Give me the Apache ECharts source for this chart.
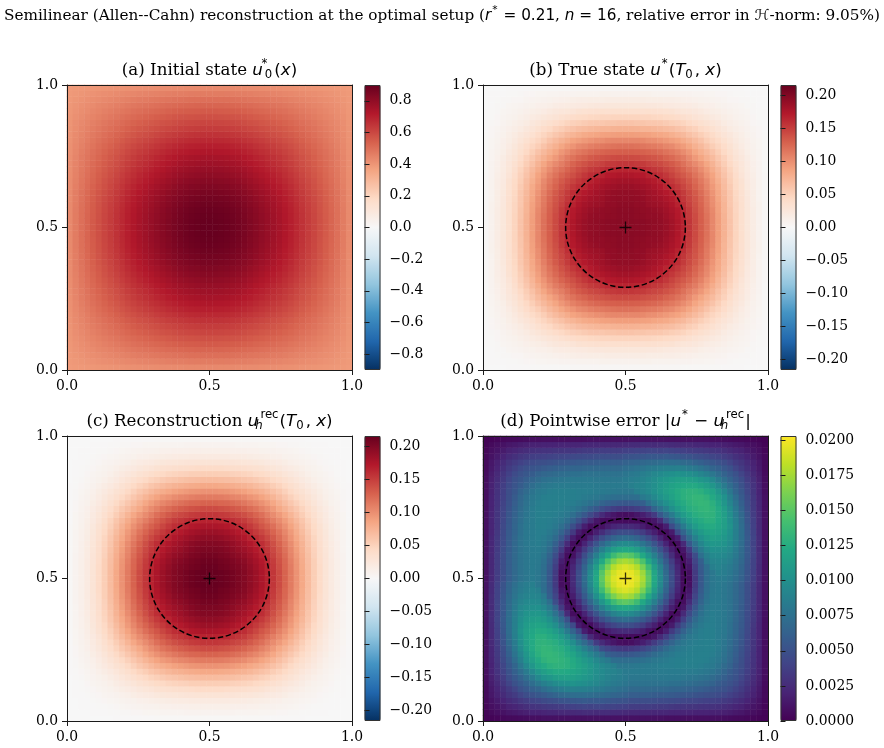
<!DOCTYPE html>
<html>
<head>
<meta charset="utf-8">
<style>html,body{margin:0;padding:0;background:#fff}#chart{width:884px;height:748px}</style>
<script src="https://cdn.jsdelivr.net/npm/echarts@6/dist/echarts.min.js"></script>
</head>
<body>
<div id="chart"></div>
<script>
// Fields are stored as upper triangles of a quadrant: row l holds the cells k = l..24,
// counted in cells away from the domain centre along each axis.
const CELLS = 49;

// Initial state u0*, in thousandths
const initialState = [
[900,899,895,890,881,871,857,841,824,806,788,769,751,729,706,681,656,631,607,580,554,527,500,468,432],
[898,894,889,880,870,856,840,823,805,787,768,750,728,705,680,655,630,607,580,554,527,500,468,432],
[890,885,876,866,852,836,820,802,784,765,747,726,703,678,653,628,605,578,552,526,499,467,431],
[880,871,861,847,832,815,797,780,761,744,722,699,675,650,626,602,576,551,524,498,466,431],
[862,853,839,824,808,790,773,755,737,716,694,670,646,622,599,573,548,522,496,465,430],
[844,831,816,800,783,766,748,731,710,688,664,641,617,595,569,544,519,493,463,429],
[818,803,788,771,755,737,721,700,679,656,633,610,588,564,540,515,490,461,428],
[788,773,757,741,725,709,689,669,647,625,602,581,557,534,510,486,458,426],
[759,743,728,712,696,678,658,637,615,594,574,551,528,505,482,455,424],
[729,714,699,684,666,647,627,606,586,566,544,522,500,478,452,423],
[700,685,671,654,636,616,596,577,558,537,516,495,474,449,421],
[671,658,641,624,605,585,568,550,530,510,490,470,446,419],
[645,629,613,595,577,559,542,523,504,485,466,443,417],
[615,599,582,565,549,533,514,497,479,461,439,415],
[584,569,553,537,522,505,489,472,455,435,413],
[554,540,525,511,496,481,465,449,431,410],
[526,513,500,486,472,458,444,427,408],
[501,490,477,464,451,438,423,405],
[479,467,456,444,432,419,403],
[457,447,437,426,414,400],
[438,429,420,409,397],
[422,414,405,395],
[408,400,392],
[395,389],
[385]];

// True state u*(T0, x), in thousandths
const trueState = [
[196,196,196,195,194,192,191,187,182,175,166,155,143,131,119,105,91,76,62,48,36,25,17,9,3],
[197,196,196,194,193,191,187,182,175,166,155,143,131,119,105,91,76,62,48,36,25,17,9,3],
[194,194,192,192,190,185,180,173,165,153,142,130,118,105,90,75,61,48,36,25,17,9,3],
[193,192,190,188,183,178,172,163,152,140,129,116,104,89,74,61,47,35,25,17,10,3],
[188,186,184,180,175,167,159,148,138,127,114,101,88,74,59,47,36,24,16,10,3],
[183,181,176,171,164,155,145,136,125,113,100,86,72,59,46,35,24,16,8,3],
[177,172,167,160,152,143,133,122,110,97,84,70,58,45,34,23,16,8,3],
[165,160,154,146,138,128,118,106,94,82,68,56,43,33,22,15,8,3],
[154,147,141,133,124,114,103,90,78,66,53,42,32,21,15,8,3],
[140,134,127,118,109,97,87,74,62,51,40,29,20,14,7,3],
[127,119,112,102,92,81,70,59,48,37,27,19,13,7,2],
[111,103,95,85,75,64,54,44,34,26,18,12,7,2],
[94,86,77,69,59,50,40,31,24,17,11,6,2],
[78,70,62,53,44,36,28,22,14,10,6,2],
[62,54,47,40,32,25,18,13,9,5,2],
[47,41,34,28,22,16,12,8,5,2],
[34,29,24,19,14,10,7,4,2],
[24,19,15,12,9,6,4,1],
[15,13,10,7,4,3,1],
[10,8,6,4,2,1],
[6,5,3,2,1],
[3,3,1,0],
[2,1,0],
[1,0],
[0]];

// Reconstruction u_h^rec(T0, x), in thousandths
const reconstruction = [
[216,216,214,212,208,204,200,193,186,177,167,155,142,128,113,98,83,68,54,41,30,20,13,7,2],
[216,214,212,208,204,200,193,186,177,167,155,142,128,113,98,83,68,54,41,30,20,13,7,2],
[211,209,205,202,198,191,184,175,165,153,140,126,112,97,82,67,53,41,30,20,13,7,2],
[207,203,199,195,188,181,173,163,151,138,125,110,96,81,66,53,40,29,20,13,7,2],
[198,194,190,184,177,168,159,147,135,122,107,93,79,65,51,39,29,19,12,7,2],
[189,185,179,172,164,155,144,132,119,105,91,77,63,50,38,28,19,12,6,2],
[180,174,168,160,151,140,128,115,102,88,75,61,49,37,27,18,12,6,2],
[166,160,153,144,134,122,110,97,84,72,59,47,35,26,17,11,6,2],
[153,145,137,127,117,105,93,80,68,56,44,34,25,16,11,6,2],
[136,129,120,109,99,87,76,64,52,42,32,23,15,10,5,2],
[120,111,102,92,81,70,60,49,39,29,21,14,9,5,1],
[102,93,84,74,64,54,44,35,27,20,13,9,5,1],
[83,75,66,58,49,40,32,24,18,12,8,4,1],
[67,59,51,43,35,28,21,16,10,7,4,1],
[51,44,37,31,24,18,13,9,6,3,1],
[37,32,26,21,16,11,8,5,3,1],
[26,21,17,13,9,6,4,2,1],
[17,13,10,7,5,3,2,0],
[10,8,6,4,2,1,0],
[6,4,3,2,1,0],
[3,2,1,1,0],
[1,1,0,0],
[1,0,0],
[0,0],
[0]];

// Pointwise error, in units of 1e-4; two lobes sit on the main diagonal
const errorLobeQuadrant = [
[200,198,192,177,152,122,97,72,48,25,6,7,33,55,72,80,83,83,79,72,63,51,38,24,9],
[196,188,173,148,119,95,70,47,24,6,8,34,56,72,80,87,85,81,74,65,52,39,25,10],
[180,162,138,112,89,65,42,21,6,12,37,58,73,87,90,87,83,76,66,53,40,25,10],
[145,122,101,79,57,36,16,6,17,41,61,82,91,92,90,86,78,68,54,40,26,10],
[105,87,67,47,26,9,7,25,47,74,87,95,96,94,89,81,70,56,41,26,10],
[70,53,34,17,6,12,35,65,83,94,101,100,98,93,83,71,56,41,25,10],
[37,20,6,7,24,56,76,92,102,107,106,103,96,85,72,56,40,26,10],
[8,7,17,49,71,88,101,109,113,111,107,99,87,73,57,41,26,9],
[15,46,66,84,100,109,116,118,116,110,101,87,73,56,40,25,9],
[65,83,99,110,118,123,124,119,113,103,88,72,55,39,24,9],
[98,110,119,124,128,128,122,114,101,87,71,53,38,24,9],
[119,126,129,131,130,123,113,100,84,69,52,36,24,9],
[129,132,133,130,123,111,97,81,65,49,35,22,9],
[134,133,128,118,106,92,77,62,47,34,22,9],
[130,123,113,102,87,72,58,45,33,21,9],
[117,106,94,80,66,55,42,31,20,8],
[95,84,72,62,51,40,30,20,8],
[74,64,56,47,36,27,18,7],
[57,50,41,33,24,16,6],
[41,35,28,21,14,5],
[31,25,19,13,5],
[20,15,10,4],
[11,8,3],
[5,2],
[1]];
const errorPlainQuadrant = [
[200,198,192,177,152,122,97,72,48,25,6,7,33,55,72,80,83,80,76,69,60,48,36,23,9],
[196,188,173,148,119,95,70,47,24,6,8,34,56,72,80,83,80,76,69,60,48,36,23,9],
[180,162,138,112,89,65,42,21,6,12,37,58,73,81,83,80,76,69,60,48,36,23,9],
[145,122,101,79,57,36,16,6,17,41,61,75,82,83,80,76,69,60,48,36,23,9],
[105,87,67,47,26,9,7,25,47,65,77,83,83,80,76,69,60,48,36,23,9],
[70,53,34,17,6,12,35,55,71,80,84,83,80,76,68,59,47,35,22,9],
[37,20,6,7,24,45,62,75,82,85,84,81,76,68,58,46,34,22,9],
[8,7,17,37,56,70,79,84,86,84,81,76,67,58,46,34,22,8],
[15,34,51,65,76,82,86,86,84,81,75,66,57,45,33,21,8],
[49,63,74,81,85,87,87,84,81,75,66,56,44,32,21,8],
[73,80,84,86,87,87,84,80,73,65,55,43,32,21,8],
[84,86,87,88,87,84,79,72,63,54,42,31,21,8],
[87,87,88,87,84,78,71,62,52,41,31,20,8],
[88,88,86,82,76,69,60,50,40,30,20,8],
[87,84,80,75,67,58,49,39,30,20,8],
[82,77,71,64,55,48,38,29,19,8],
[72,66,59,53,46,37,28,19,8],
[61,55,50,43,34,26,18,7],
[51,46,39,32,24,16,6],
[40,35,28,21,14,5],
[31,25,19,13,5],
[20,15,10,4],
[11,8,3],
[5,2],
[1]];

// Colourbar ranges and ticks
const stateRange = 0.9, finalRange = 0.216, errorMax = 0.0203;
const stateTicks = [-0.8,-0.6,-0.4,-0.2,0,0.2,0.4,0.6,0.8];
const finalTicks = [-0.2,-0.15,-0.1,-0.05,0,0.05,0.1,0.15,0.2];
const errorTicks = [0,0.0025,0.005,0.0075,0.01,0.0125,0.015,0.0175,0.02];
const axisTicks = [0,0.5,1];

const RDBU = ['#053061','#2166ac','#4393c3','#92c5de','#d1e5f0','#f7f7f7','#fddbc7','#f4a582','#d6604d','#b2182b','#67001f'];
const VIRIDIS = ['#440154','#482475','#414487','#355f8d','#2a788e','#21918c','#22a884','#44bf70','#7ad151','#bddf26','#fde725'];

// Support of the observation ball
const ballCentre = [0.5, 0.5];
const ballRadius = 0.21;

const SERIF = '"DejaVu Serif"', SANS = '"DejaVu Sans"';
const TICK_FONT = 13.9;
const SIDE = 285, BAR_W = 16, BAR_GAP = 12.5;
const INK = '#1a1a1a';

function triLookup(tri, a, b) {
  const lo = Math.min(a, b), hi = Math.max(a, b);
  return tri[lo][hi - lo];
}
// Builds heatmap cells; the lower half-plane repeats the upper one through the centre.
function buildCells(rightQuadrant, leftQuadrant, unit) {
  const mid = (CELLS - 1) / 2, out = [];
  for (let j = 0; j < CELLS; j++) {
    for (let i = 0; i < CELLS; i++) {
      let dx = i - mid, dy = j - mid;
      if (dy < 0) { dx = -dx; dy = -dy; }
      const tri = dx >= 0 ? rightQuadrant : leftQuadrant;
      out.push([i, j, triLookup(tri, Math.abs(dx), dy) * unit]);
    }
  }
  return out;
}

const panels = [
  {left: 67,  top: 85,  cells: buildCells(initialState, initialState, 1e-3), min: -stateRange, max: stateRange, colors: RDBU, ticks: stateTicks, digits: 1, marks: false},
  {left: 483, top: 85,  cells: buildCells(trueState, trueState, 1e-3), min: -finalRange, max: finalRange, colors: RDBU, ticks: finalTicks, digits: 2, marks: true},
  {left: 67,  top: 436, cells: buildCells(reconstruction, reconstruction, 1e-3), min: -finalRange, max: finalRange, colors: RDBU, ticks: finalTicks, digits: 2, marks: true},
  {left: 483, top: 436, cells: buildCells(errorLobeQuadrant, errorPlainQuadrant, 1e-4), min: 0, max: errorMax, colors: VIRIDIS, ticks: errorTicks, digits: 4, marks: true}
];

function mathRich(size) {
  const small = Math.round(size * 0.7 * 10) / 10;
  const base = {color: '#000', fontWeight: 'normal'};
  const up = Math.round(size * 0.75), down = Math.round(size * 0.55);
  return {
    t:    Object.assign({fontFamily: SERIF, fontSize: size}, base),
    m:    Object.assign({fontFamily: SANS, fontStyle: 'italic', fontSize: size}, base),
    r:    Object.assign({fontFamily: SANS, fontSize: size}, base),
    sup:  Object.assign({fontFamily: SANS, fontSize: small, padding: [0, 1, up, 1]}, base),
    supz: Object.assign({fontFamily: SANS, fontSize: small, padding: [0, 0, up, 1], width: 1}, base),
    sub:  Object.assign({fontFamily: SANS, fontSize: small, padding: [down, 2, 0, 0]}, base),
    subi: Object.assign({fontFamily: SANS, fontStyle: 'italic', fontSize: small, padding: [down, 0, 0, 0], width: 1}, base)
  };
}
const panelRich = mathRich(16.67), headRich = mathRich(15.28);

const titles = [
  {text: '{t|Semilinear (Allen--Cahn) reconstruction at the optimal setup (}{m|r}{sup|*}{r| = 0.21}{t|, }{m|n}{r| = 16}{t|, relative error in }{m|ℋ}{t|-norm: 9.05%)}',
   left: 442, top: 5, textAlign: 'center', padding: 0, textStyle: {fontWeight: 'normal', rich: headRich}},
  {text: '{t|(a) Initial state }{m|u}{supz|*}{sub|0}{r|(}{m|x}{r|)}', left: 209.5, top: 58, textAlign: 'center', padding: 0, textStyle: {fontWeight: 'normal', rich: panelRich}},
  {text: '{t|(b) True state }{m|u}{sup|*}{r|(}{m|T}{sub|0}{r|, }{m|x}{r|)}', left: 625.5, top: 58, textAlign: 'center', padding: 0, textStyle: {fontWeight: 'normal', rich: panelRich}},
  {text: '{t|(c) Reconstruction }{m|u}{subi|h}{sup|rec}{r|(}{m|T}{sub|0}{r|, }{m|x}{r|)}', left: 209.5, top: 409, textAlign: 'center', padding: 0, textStyle: {fontWeight: 'normal', rich: panelRich}},
  {text: '{t|(d) Pointwise error }{r||}{m|u}{sup|*}{r| − }{m|u}{subi|h}{sup|rec}{r||}', left: 625.5, top: 409, textAlign: 'center', padding: 0, textStyle: {fontWeight: 'normal', rich: panelRich}}
];

const tickLabel = {fontFamily: SERIF, fontSize: TICK_FONT, color: '#000', margin: 9};
const axisLineStyle = {show: true, onZero: false, lineStyle: {color: INK, width: 1}};
const fmtSigned = (v, d) => (v < 0 ? '\u2212' : '') + Math.abs(v).toFixed(d);

const grids = [], xAxes = [], yAxes = [], series = [], visualMaps = [], outlines = [];

panels.forEach(function (p, n) {
  // Field grid: category axes carrying the heatmap; they draw the top and right spines.
  const cat = Array.from({length: CELLS}, (_, i) => String(i));
  const fieldGrid = grids.length;
  grids.push({left: p.left, top: p.top, width: SIDE, height: SIDE});
  xAxes.push({type: 'category', gridIndex: fieldGrid, data: cat, position: 'top', z: 5,
    axisLine: axisLineStyle, axisTick: {show: false}, axisLabel: {show: false}, splitLine: {show: false}});
  yAxes.push({type: 'category', gridIndex: fieldGrid, data: cat, position: 'right', z: 5,
    axisLine: axisLineStyle, axisTick: {show: false}, axisLabel: {show: false}, splitLine: {show: false}});
  const xFieldIdx = xAxes.length - 1, yFieldIdx = yAxes.length - 1;

  // Overlay grid: unit-square value axes for the ticks, the ball and the centre marker.
  const overlayGrid = grids.length;
  grids.push({left: p.left, top: p.top, width: SIDE, height: SIDE});
  const unitAxis = {type: 'value', gridIndex: overlayGrid, min: 0, max: 1, z: 5,
    axisLine: axisLineStyle,
    axisTick: {show: true, length: 5, customValues: axisTicks, lineStyle: {color: INK, width: 1}},
    axisLabel: Object.assign({customValues: axisTicks, formatter: v => Number(v).toFixed(1), showMinLabel: true, showMaxLabel: true}, tickLabel),
    splitLine: {show: false}};
  xAxes.push(Object.assign({}, unitAxis, {position: 'bottom'}));
  yAxes.push(Object.assign({}, unitAxis, {position: 'left', axisLabel: Object.assign({}, unitAxis.axisLabel, {padding: [3, 0, 0, 0]})}));
  const xOverIdx = xAxes.length - 1, yOverIdx = yAxes.length - 1;

  visualMaps.push({
    type: 'continuous', seriesIndex: series.length, min: p.min, max: p.max,
    left: p.left + SIDE + BAR_GAP, top: p.top, itemWidth: BAR_W, itemHeight: SIDE,
    padding: 0, text: null, calculable: false, showLabel: false, hoverLink: false, realtime: false,
    inRange: {color: p.colors}
  });

  series.push({type: 'heatmap', name: 'field ' + n, xAxisIndex: xFieldIdx, yAxisIndex: yFieldIdx,
    data: p.cells, progressive: 0, animation: false, silent: true, z: 2});

  // Colourbar axis, lying on the bar's right side.
  const barGrid = grids.length;
  grids.push({left: p.left + SIDE + BAR_GAP, top: p.top, width: BAR_W, height: SIDE});
  xAxes.push({type: 'value', gridIndex: barGrid, show: false, min: 0, max: 1});
  yAxes.push({type: 'value', gridIndex: barGrid, position: 'right', min: p.min, max: p.max, z: 5,
    axisLine: {show: false},
    axisTick: {show: true, length: 5, customValues: p.ticks, lineStyle: {color: INK, width: 1}},
    axisLabel: Object.assign({customValues: p.ticks, formatter: v => fmtSigned(Number(v), p.digits), padding: [3, 0, 0, 0]}, tickLabel),
    splitLine: {show: false}});
  outlines.push({type: 'rect', z: 100, silent: true,
    shape: {x: p.left + SIDE + BAR_GAP + 0.5, y: p.top + 0.5, width: BAR_W - 1, height: SIDE - 1},
    style: {fill: 'none', stroke: '#333', lineWidth: 1}});

  if (p.marks) {
    series.push({type: 'custom', name: 'ball ' + n, xAxisIndex: xOverIdx, yAxisIndex: yOverIdx, z: 6, silent: true, animation: false,
      coordinateSystem: 'cartesian2d', clip: false,
      data: [[ballCentre[0], ballCentre[1], ballRadius]],
      encode: {x: 0, y: 1},
      renderItem: function (params, api) {
        const c = api.coord([api.value(0), api.value(1)]);
        const r = api.size([api.value(2), 0])[0];
        return {type: 'circle', shape: {cx: c[0], cy: c[1], r: r},
          style: {fill: 'none', stroke: '#000', lineWidth: 1.5, lineDash: [5.4, 2.6]}};
      }});
    series.push({type: 'scatter', name: 'centre ' + n, xAxisIndex: xOverIdx, yAxisIndex: yOverIdx, z: 7, silent: true, animation: false,
      data: [ballCentre],
      symbol: 'path://M0 5H10M5 0V10', symbolSize: 12,
      itemStyle: {color: 'none', borderColor: '#000', borderWidth: 1.3}});
  }
});

const chart = echarts.init(document.getElementById('chart'), null, {renderer: 'canvas'});
chart.setOption({
  animation: false,
  backgroundColor: '#fff',
  title: titles,
  grid: grids,
  xAxis: xAxes,
  yAxis: yAxes,
  visualMap: visualMaps,
  graphic: {elements: outlines},
  series: series
});
</script>
</body>
</html>
